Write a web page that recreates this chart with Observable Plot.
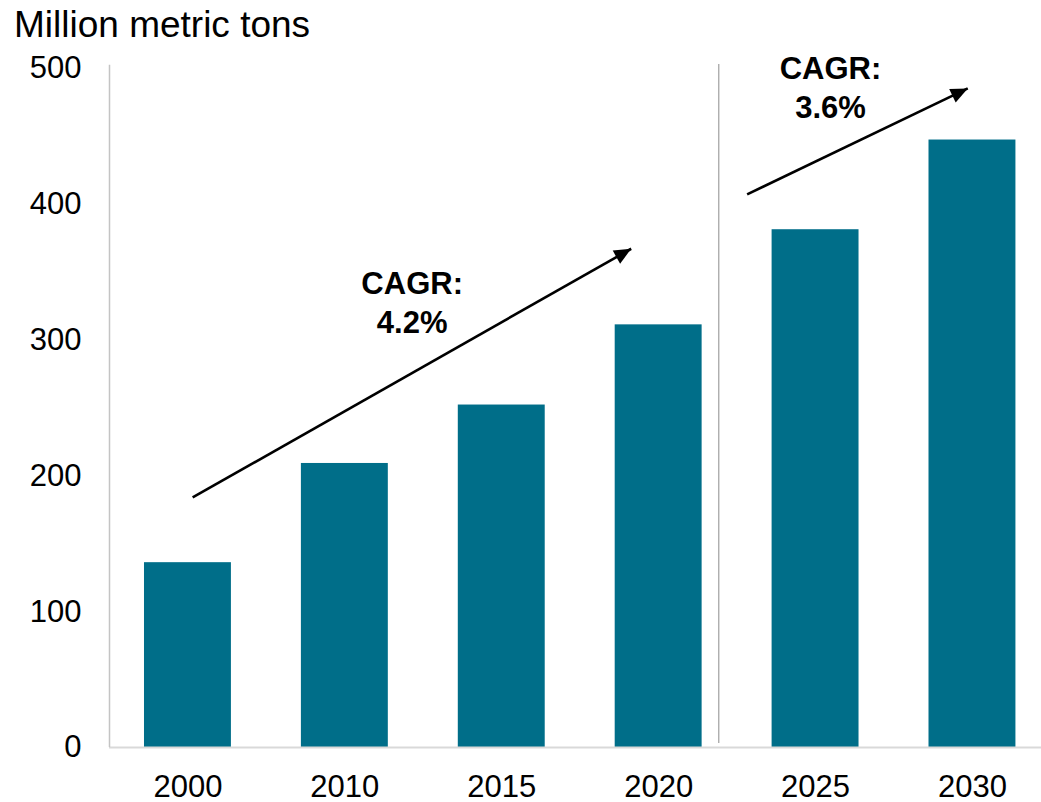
<!DOCTYPE html>
<html>
<head>
<meta charset="utf-8">
<script src="https://cdn.jsdelivr.net/npm/d3@7"></script>
<script src="https://cdn.jsdelivr.net/npm/@observablehq/plot@0.6"></script>
<style>
  html, body { margin: 0; padding: 0; background: #fff; }
  body { width: 1041px; height: 802px; overflow: hidden; font-family: "Liberation Sans", Arial, sans-serif; }
  #title { height: 39px; padding-top: 5px; line-height: 39px; font-size: 37px; padding-left: 14px; color: #000; white-space: nowrap; }
</style>
</head>
<body>
<div id="title">Million metric tons</div>
<div id="chart"></div>
<script>
const years = ["2000", "2010", "2015", "2020", "2025", "2030"];
const values = [136, 209, 252, 311, 381, 447];
const yTicks = [0, 100, 200, 300, 400, 500];

// CAGR annotations (index-based x, value-based y)
const arrowStartX = [0.03, 3.564];
const arrowStartY = [184, 407];
const arrowEndX = [2.825, 4.97];
const arrowEndY = [367, 485];
const cagrLabels = ["CAGR:\n4.2%", "CAGR:\n3.6%"];
const cagrX = [1.429, 4.095];
const cagrY = [328.5, 486.8];

// divider between history and forecast
const dividerX = [3.383];

const barHalf = 0.277;
const teal = "#006E89";

const bars = years.map((y, i) => ({year: y, i, value: values[i]}));
const arrows = arrowStartX.map((x, k) => ({x1: x, y1: arrowStartY[k], x2: arrowEndX[k], y2: arrowEndY[k]}));
const labels = cagrLabels.map((t, k) => ({text: t, x: cagrX[k], y: cagrY[k]}));

const plot = Plot.plot({
  width: 1041,
  height: 757,
  marginLeft: 109,
  marginRight: 0,
  marginTop: 23.5,
  marginBottom: 54,
  style: {fontFamily: "'Liberation Sans', Arial, sans-serif", background: "#fff", color: "#000", overflow: "visible"},
  x: {type: "linear", domain: [-0.5, 5.44], axis: null},
  y: {domain: [0, 500], axis: null},
  marks: [
    Plot.rect(bars, {x1: d => d.i - barHalf, x2: d => d.i + barHalf, y1: 0, y2: "value", fill: teal}),
    Plot.ruleY([0], {x1: -0.5, x2: 5.44, stroke: "#d9d9d9", strokeWidth: 2}),
    Plot.ruleX([-0.5], {y1: 0, y2: 502, stroke: "#c4c4c4", strokeWidth: 1.5}),
    Plot.ruleX(dividerX, {y1: 3, y2: 502.6, stroke: "#a6a6a6", strokeWidth: 1.3}),
    Plot.axisY({ticks: yTicks, tickSize: 0, tickPadding: 28, fontSize: 31, tickFormat: d => String(d)}),
    Plot.axisX({ticks: years.map((_, i) => i), tickSize: 0, tickPadding: 27, fontSize: 31, tickFormat: i => years[i], label: null}),
    Plot.link(arrows, {x1: "x1", y1: "y1", x2: "x2", y2: "y2", stroke: "#000", strokeWidth: 2.6, markerEnd: "arrow"}),
    Plot.text(labels, {x: "x", y: "y", text: "text", fontSize: 31, fontWeight: "bold", lineHeight: 1.26, fill: "#000"})
  ]
});

// make arrow heads filled triangles
plot.querySelectorAll("marker").forEach(m => {
  m.setAttribute("markerUnits", "userSpaceOnUse");
  m.setAttribute("viewBox", "-18 -9 20 18");
  m.setAttribute("markerWidth", "20");
  m.setAttribute("markerHeight", "18");
  m.setAttribute("fill", "#000");
  m.setAttribute("stroke", "none");
  m.setAttribute("overflow", "visible");
  const p = m.querySelector("path");
  if (p) p.setAttribute("d", "M-17,-7.5L0,0L-17,7.5Z");
});

document.getElementById("chart").appendChild(plot);
</script>
</body>
</html>
